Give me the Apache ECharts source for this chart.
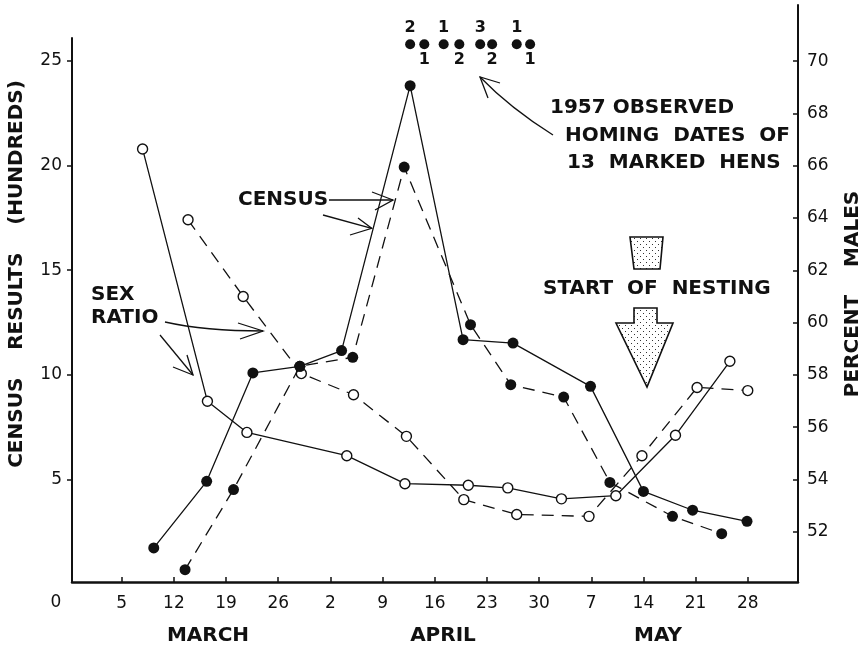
<!DOCTYPE html>
<html><head><meta charset="utf-8">
<script src="https://cdn.jsdelivr.net/npm/echarts@6/dist/echarts.min.js"></script>
<style>html,body{margin:0;padding:0;background:#fff}#c{width:863px;height:649px}</style>
</head><body><div id="c"></div>
<script>
// x values are days counted from 1 March (April d = 31 + d, May d = 61 + d)
const censusSolidDays = [9.3, 16.4, 22.6, 28.9, 34.5, 43.7, 50.8, 57.5, 67.9, 75.0, 81.6, 88.9];
const censusSolid     = [1.73, 4.91, 10.09, 10.41, 11.16, 23.82, 11.68, 11.52, 9.45, 4.43, 3.53, 3.0];
const censusDashedDays = [13.5, 20.0, 28.9, 36.0, 42.9, 51.8, 57.2, 64.3, 70.5, 78.9, 85.5];
const censusDashed     = [0.69, 4.52, 10.41, 10.84, 19.93, 12.4, 9.53, 8.94, 4.86, 3.24, 2.41];
const sexSolidDays = [7.8, 16.5, 21.8, 35.2, 43.0, 51.5, 56.8, 64.0, 71.3, 79.3, 86.6];
const sexSolid     = [66.64, 56.99, 55.80, 54.91, 53.84, 53.78, 53.68, 53.26, 53.38, 55.69, 58.52];
const sexDashedDays = [13.9, 21.3, 29.1, 36.1, 43.2, 50.9, 58.0, 67.7, 74.8, 82.2, 89.0];
const sexDashed     = [63.93, 61.0, 58.05, 57.24, 55.65, 53.23, 52.66, 52.59, 54.91, 57.52, 57.40];
const homingDays   = [43.7, 45.6, 48.2, 50.3, 53.1, 54.7, 58.0, 59.8];
const homingCounts = [2, 1, 1, 2, 3, 2, 1, 1];
const homingLabelPos = ['top', 'bottom', 'top', 'bottom', 'top', 'bottom', 'top', 'bottom'];
const homingRow = 25.8;
const xTickDays   = [5, 12, 19, 26, 33, 40, 47, 54, 61, 68, 75, 82, 89];
const xTickLabels = ['5', '12', '19', '26', '2', '9', '16', '23', '30', '7', '14', '21', '28'];
const leftTicks  = [5, 10, 15, 20, 25];
const rightTicks = [52, 54, 56, 58, 60, 62, 64, 66, 68, 70];
const months = ['MARCH', 'APRIL', 'MAY'];

const INK = '#111';
const FONT = 'DejaVu Sans';

// stipple pattern
const pc = document.createElement('canvas'); pc.width = 6; pc.height = 6;
const g = pc.getContext('2d');
g.fillStyle = '#fff'; g.fillRect(0, 0, 6, 6);
g.fillStyle = '#333'; g.fillRect(1, 1, 1, 1); g.fillRect(4, 4, 1, 1);
const stipple = { image: pc, repeat: 'repeat' };

function lineSeries(days, vals, dashed, open, idx) {
  return {
    type: 'line', xAxisIndex: idx, yAxisIndex: idx,
    data: days.map((d, i) => [d, vals[i]]),
    symbol: 'circle', symbolSize: open ? 10 : 11, showAllSymbol: true,
    lineStyle: { color: INK, width: 1.3, type: dashed ? [12, 8] : 'solid' },
    itemStyle: { color: open ? '#fff' : INK, borderColor: INK, borderWidth: open ? 1.4 : 0, opacity: 1 },
    emphasis: { disabled: true }, z: open ? 3 : 4, animation: false
  };
}

const xBase = {
  type: 'value', min: -1.67, max: 95.74,
  splitLine: { show: false }
};

const chart = echarts.init(document.getElementById('c'), null, { renderer: 'canvas' });
const txt = (text, x, y, opts = {}) => Object.assign({
  type: 'text', x, y, z: 10,
  style: Object.assign({ text, fill: INK, font: 'bold 20px "' + FONT + '"', textAlign: 'left', textVerticalAlign: 'middle' }, opts.style || {})
}, opts.el || {});
const pl = (points) => ({ type: 'polyline', z: 10, shape: { points }, style: { stroke: INK, lineWidth: 1.3, fill: null } });

chart.setOption({
  animation: false,
  backgroundColor: '#fff',
  grid: [
    { left: 72, right: 65, top: 38, bottom: 67, containLabel: false, outerBoundsMode: 'none' },
    { left: 72, right: 65, top: 5, bottom: 67, containLabel: false, outerBoundsMode: 'none' }
  ],
  xAxis: [
    Object.assign({}, xBase, {
      gridIndex: 0,
      axisLine: { show: true, onZero: false, lineStyle: { color: INK, width: 2.5 } },
      axisTick: { show: true, inside: true, length: 5, customValues: xTickDays, lineStyle: { color: INK, width: 1.5 } },
      axisLabel: { show: true, customValues: xTickDays, margin: 13, color: INK, fontSize: 17, fontFamily: FONT,
        formatter: v => { const i = xTickDays.indexOf(v); return i >= 0 ? xTickLabels[i] : ''; } }
    }),
    Object.assign({}, xBase, { gridIndex: 1, show: false, axisLine: { onZero: false } })
  ],
  yAxis: [
    { type: 'value', gridIndex: 0, position: 'left', min: 0.1, max: 26.1, splitLine: { show: false },
      axisLine: { show: true, onZero: false, lineStyle: { color: INK, width: 2 } },
      axisTick: { show: true, inside: false, length: 5, customValues: leftTicks, lineStyle: { color: INK, width: 1.5 } },
      axisLabel: { customValues: leftTicks, margin: 10, color: INK, fontSize: 17, fontFamily: FONT } },
    { type: 'value', gridIndex: 1, position: 'right', min: 50.08, max: 72.145, splitLine: { show: false },
      axisLine: { show: true, onZero: false, lineStyle: { color: INK, width: 2 } },
      axisTick: { show: true, inside: true, length: 5, customValues: rightTicks, lineStyle: { color: INK, width: 1.5 } },
      axisLabel: { customValues: rightTicks, margin: 9, color: INK, fontSize: 17, fontFamily: FONT } }
  ],
  series: [
    lineSeries(sexSolidDays, sexSolid, false, true, 1),
    lineSeries(sexDashedDays, sexDashed, true, true, 1),
    lineSeries(censusSolidDays, censusSolid, false, false, 0),
    lineSeries(censusDashedDays, censusDashed, true, false, 0),
    {
      type: 'scatter', xAxisIndex: 0, yAxisIndex: 0, symbolSize: 10, z: 5,
      itemStyle: { color: INK, opacity: 1 },
      data: homingDays.map((d, i) => ({ value: [d, homingRow], label: { position: homingLabelPos[i] } })),
      label: { show: true, distance: 3, color: INK, fontSize: 16, fontWeight: 'bold', fontFamily: FONT,
        formatter: p => String(homingCounts[p.dataIndex]) },
      emphasis: { disabled: true }
    }
  ],
  graphic: [
    txt('0', 56, 603, { style: { textAlign: 'center', font: '17px "' + FONT + '"' } }),
    txt(months[0], 208, 636, { style: { textAlign: 'center' } }),
    txt(months[1], 443, 636, { style: { textAlign: 'center' } }),
    txt(months[2], 658, 636, { style: { textAlign: 'center' } }),
    txt('CENSUS    RESULTS    (HUNDREDS)', 17, 274, { style: { textAlign: 'center' }, el: { rotation: Math.PI / 2 } }),
    txt('PERCENT    MALES', 853, 294, { style: { textAlign: 'center' }, el: { rotation: Math.PI / 2 } }),
    txt('CENSUS', 238, 200),
    txt('SEX', 91, 295),
    txt('RATIO', 91, 318),
    txt('1957 OBSERVED', 550, 108),
    txt('HOMING  DATES  OF', 565, 136),
    txt('13  MARKED  HENS', 567, 163),
    txt('START  OF  NESTING', 543, 289),
    // census arrows
    pl([[329, 200], [393, 200]]), pl([[372, 192], [393, 200], [375, 210]]),
    pl([[323, 215], [371.7, 228.3]]), pl([[358, 218], [371.7, 228.3], [350, 235]]),
    // sex ratio arrows
    { type: 'bezierCurve', z: 10, shape: { x1: 165, y1: 322, cpx1: 205, cpy1: 331, x2: 263, y2: 331 }, style: { stroke: INK, lineWidth: 1.3, fill: null } },
    pl([[238, 323], [263, 331], [240, 339]]),
    pl([[160, 335], [193, 375]]), pl([[173, 367], [193, 375], [187, 355]]),
    // homing arrow
    { type: 'bezierCurve', z: 10, shape: { x1: 553, y1: 135, cpx1: 510, cpy1: 108, x2: 480, y2: 77 }, style: { stroke: INK, lineWidth: 1.3, fill: null } },
    pl([[500, 83], [480, 77], [488, 98]]),
    // start of nesting symbols
    { type: 'polygon', z: 10, shape: { points: [[630, 237], [663, 237], [660, 269], [634, 269]] }, style: { fill: stipple, stroke: INK, lineWidth: 1.6 } },
    { type: 'polygon', z: 10, shape: { points: [[634, 308], [657, 308], [657, 323], [673, 323], [647, 387], [616, 323], [634, 323]] }, style: { fill: stipple, stroke: INK, lineWidth: 1.6 } }
  ]
});
</script></body></html>
